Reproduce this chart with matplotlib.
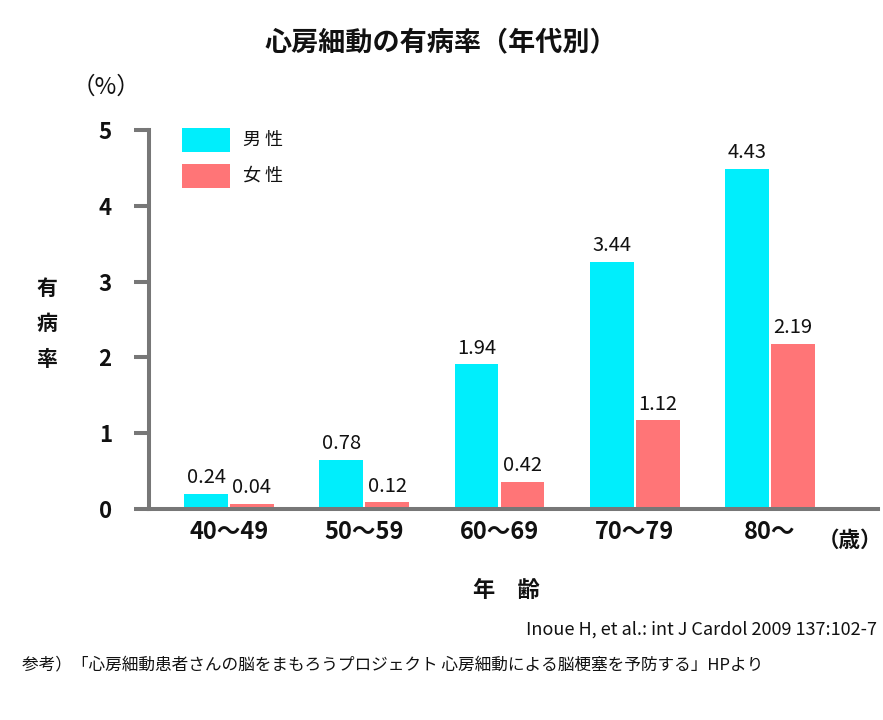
import numpy as np
import matplotlib
matplotlib.use('Agg')
import matplotlib.pyplot as plt
from matplotlib.patches import Rectangle

plt.rcParams['font.family'] = ['Noto Sans CJK JP', 'DejaVu Sans']

# datos (altura de las barras y rótulos impresos)
grupos_edad = ['40〜49', '50〜59', '60〜69', '70〜79', '80〜']
altura_hombres = [0.20, 0.65, 1.91, 3.26, 4.49]
altura_mujeres = [0.07, 0.09, 0.36, 1.17, 2.18]
rotulo_hombres = ['0.24', '0.78', '1.94', '3.44', '4.43']
rotulo_mujeres = ['0.04', '0.12', '0.42', '1.12', '2.19']
series = ['男 性', '女 性']
ticks_y = [0, 1, 2, 3, 4, 5]

color_h = '#00EEFC'
color_m = '#FF7577'
gris = '#777777'
negro = '#111111'

W, H = 883, 720
fig = plt.figure(figsize=(W / 100, H / 100), dpi=100)
ax = fig.add_axes([149 / W, 1 - 509 / H, (878 - 149) / W, (509 - 130) / H])

x = np.arange(len(grupos_edad))
ancho = 0.325
off = 0.17
b1 = ax.bar(x - off, altura_hombres, ancho, color=color_h, linewidth=0)
b2 = ax.bar(x + off, altura_mujeres, ancho, color=color_m, linewidth=0)

for barras, rotulos in [(b1, rotulo_hombres), (b2, rotulo_mujeres)]:
    for b, r in zip(barras, rotulos):
        ax.annotate(r, (b.get_x() + b.get_width() / 2, b.get_height()),
                    xytext=(0, 4), textcoords='offset points',
                    ha='center', va='bottom', fontsize=14.5, color=negro)

ax.set_xlim(-0.5915, 4.7985)
ax.set_ylim(0, 5)
ax.set_yticks(ticks_y)
ax.set_yticklabels([str(t) for t in ticks_y], fontsize=16, fontweight='bold', color=negro)
ax.set_xticks(x)
ax.set_xticklabels(grupos_edad, fontsize=17, fontweight='bold', color=negro)

ax.tick_params(axis='y', direction='out', length=10.8, width=2.9, color=gris, pad=16)
ax.tick_params(axis='x', length=0, pad=8)

for s in ['top', 'right']:
    ax.spines[s].set_visible(False)
for s in ['left', 'bottom']:
    ax.spines[s].set_color(gris)
    ax.spines[s].set_linewidth(2.9)

# leyenda dibujada a mano
for i, (nombre, col) in enumerate(zip(series, [color_h, color_m])):
    top = 128 + 36 * i
    fig.patches.append(Rectangle((182 / W, 1 - (top + 24) / H), 48 / W, 24 / H,
                                 transform=fig.transFigure, color=col, linewidth=0))
    fig.text(243 / W, 1 - (top + 12) / H, nombre, ha='left', va='center',
             fontsize=13, color=negro)

# textos
fig.text(441 / W, 1 - 42 / H, '心房細動の有病率（年代別）', ha='center', va='center',
         fontsize=19.5, fontweight='bold', color=negro)
fig.text(106 / W, 1 - 87 / H, '（%）', ha='center', va='center', fontsize=17, color=negro)
for i, c in enumerate('有病率'):
    fig.text(47 / W, 1 - (288 + 36 * i) / H, c, ha='center', va='center',
             fontsize=15, fontweight='bold', color=negro)
fig.text(850 / W, 1 - 540 / H, '（歳）', ha='center', va='center',
         fontsize=15.5, fontweight='bold', color=negro)
fig.text(506 / W, 1 - 590 / H, '年　齢', ha='center', va='center',
         fontsize=16, fontweight='bold', color=negro)
fig.text(877 / W, 1 - 630 / H, 'Inoue H, et al.: int J Cardol 2009 137:102-7',
         ha='right', va='center', fontsize=13, color=negro)
fig.text(22 / W, 1 - 665 / H,
         '参考）「心房細動患者さんの脳をまもろうプロジェクト 心房細動による脳梗塞を予防する」HPより',
         ha='left', va='center', fontsize=12, color=negro)

fig.savefig('out.png', dpi=100)
